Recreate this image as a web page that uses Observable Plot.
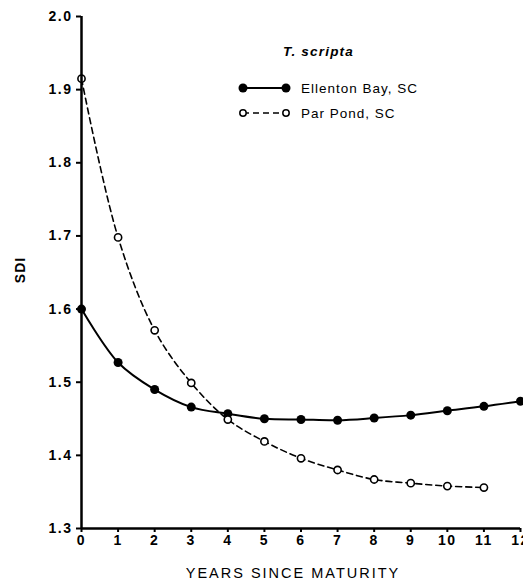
<!DOCTYPE html>
<html><head><meta charset="utf-8">
<script src="https://cdn.jsdelivr.net/npm/d3@7"></script>
<script src="https://cdn.jsdelivr.net/npm/@observablehq/plot@0.6"></script>
<style>
body{margin:0;background:#fff;}
svg text{font-family:"Liberation Sans",Arial,sans-serif;}
</style>
</head><body>
<div id="chart"></div>
<script>
const years = [0,1,2,3,4,5,6,7,8,9,10,11,12];
const ellenton = [1.600,1.527,1.490,1.466,1.457,1.450,1.449,1.448,1.451,1.455,1.461,1.467,1.474];
const parYears = [0,1,2,3,4,5,6,7,8,9,10,11];
const parPond = [1.915,1.698,1.571,1.499,1.449,1.419,1.396,1.380,1.367,1.362,1.358,1.356];
const xTicks = [0,1,2,3,4,5,6,7,8,9,10,11,12];
const yTicks = [1.3,1.4,1.5,1.6,1.7,1.8,1.9,2.0];
const title = "T. scripta";
const seriesNames = ["Ellenton Bay, SC","Par Pond, SC"];

const eb = years.map((x,i)=>({x, y: ellenton[i]}));
const pp = parYears.map((x,i)=>({x, y: parPond[i]}));

const chart = Plot.plot({
  width: 523, height: 582,
  marginLeft: 81, marginRight: 3, marginTop: 16, marginBottom: 54,
  style: {fontFamily: "Liberation Sans, Arial, sans-serif", background: "#fff", overflow: "visible"},
  x: {domain: [0,12], ticks: xTicks, label: null},
  y: {domain: [1.3,2.0], ticks: yTicks, label: null},
  marks: [
    Plot.line(pp, {x:"x", y:"y", curve:"catmull-rom", stroke:"#000", strokeWidth:1.6, strokeDasharray:"6,4"}),
    Plot.line(eb, {x:"x", y:"y", curve:"catmull-rom", stroke:"#000", strokeWidth:2}),
    Plot.dot(eb, {x:"x", y:"y", r:4.5, fill:"#000", stroke:"none"}),
    Plot.dot(pp, {x:"x", y:"y", r:3.6, fill:"#fff", stroke:"#000", strokeWidth:1.6}),
    Plot.axisY({ticks: yTicks, tickFormat: d3.format(".1f"), tickSize:5, tickPadding:4, fontSize:14, fontWeight:"bold", label:null, stroke:"#000", strokeWidth:2}),
    Plot.axisX({ticks: xTicks, tickSize:4, tickPadding:3, fontSize:14, fontWeight:"bold", label:null, stroke:"#000", strokeWidth:2}),
    Plot.ruleX([0], {stroke:"#000", strokeWidth:2.5}),
    Plot.ruleY([1.3], {stroke:"#000", strokeWidth:2.5})
  ]
});
document.getElementById("chart").appendChild(chart);

const svg = d3.select(chart);
svg.selectAll("[aria-label='y-axis tick label'] text, [aria-label='x-axis tick label'] text").style("letter-spacing","1.5px");

// axis titles
svg.append("text").attr("transform","translate(25,270) rotate(-90)")
  .attr("text-anchor","middle").attr("font-size",14).attr("font-weight","bold").attr("letter-spacing","1px").text("SDI");
svg.append("text").attr("x",293).attr("y",578)
  .attr("text-anchor","middle").attr("font-size",14.5).attr("letter-spacing","2px").text("YEARS SINCE MATURITY");

// legend
const lg = svg.append("g").attr("text-anchor","start");
lg.append("text").attr("x",283).attr("y",56).attr("font-size",13.5).attr("font-style","italic").attr("font-weight","bold").attr("letter-spacing","1.2px").text(title);
lg.append("line").attr("x1",243).attr("x2",286).attr("y1",88).attr("y2",88).attr("stroke","#000").attr("stroke-width",2);
lg.append("circle").attr("cx",243).attr("cy",88).attr("r",4.5).attr("fill","#000");
lg.append("circle").attr("cx",286).attr("cy",88).attr("r",4.5).attr("fill","#000");
lg.append("text").attr("x",301).attr("y",93).attr("font-size",13.5).attr("letter-spacing","1px").text(seriesNames[0]);
lg.append("line").attr("x1",243).attr("x2",286).attr("y1",113).attr("y2",113).attr("stroke","#000").attr("stroke-width",1.6).attr("stroke-dasharray","6,4");
lg.append("circle").attr("cx",243).attr("cy",113).attr("r",3.2).attr("fill","#fff").attr("stroke","#000").attr("stroke-width",1.5);
lg.append("circle").attr("cx",286).attr("cy",113).attr("r",3.2).attr("fill","#fff").attr("stroke","#000").attr("stroke-width",1.5);
lg.append("text").attr("x",301).attr("y",118).attr("font-size",13.5).attr("letter-spacing","1px").text(seriesNames[1]);
</script>
</body></html>
